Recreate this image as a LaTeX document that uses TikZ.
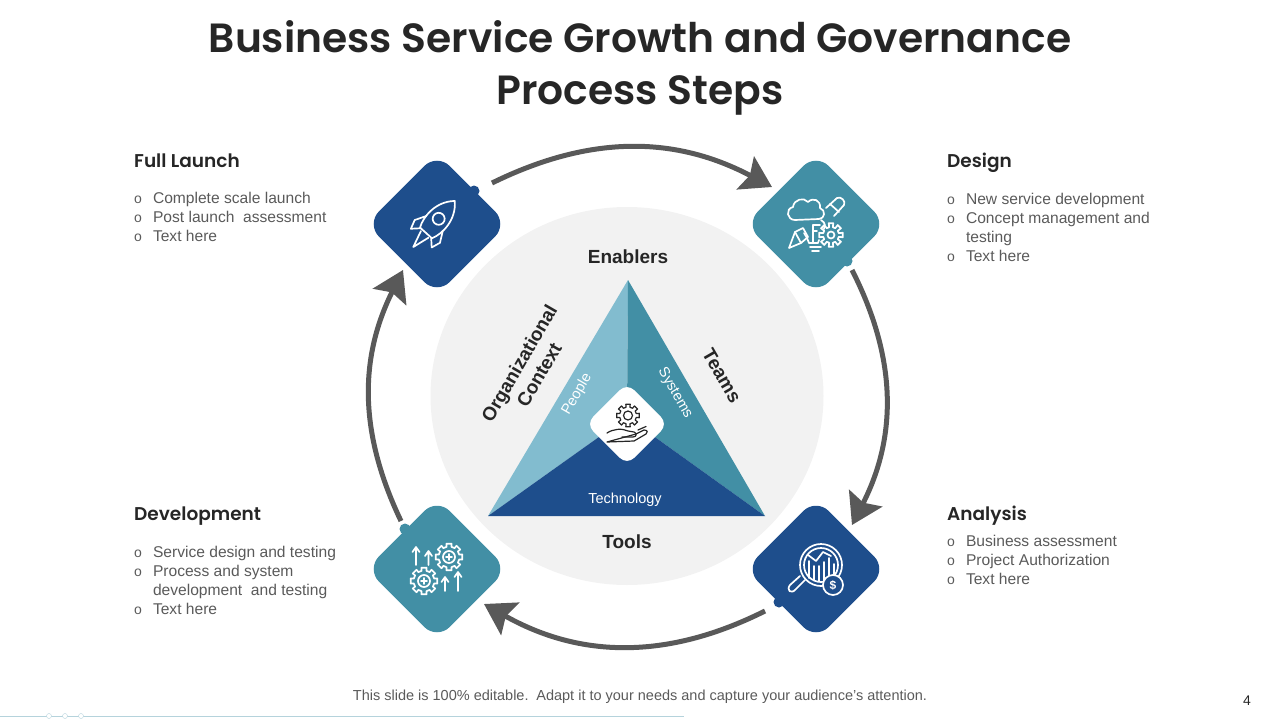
\documentclass[tikz,border=0pt]{standalone}
\usepackage{fontspec}
\setmainfont{Liberation Sans}
\newfontfamily\headfont[BoldFont={Poppins SemiBold}]{Poppins}
\usetikzlibrary{arrows.meta, shapes.geometric}

\definecolor{navyblue}{HTML}{1E4E8C}
\definecolor{tealblue}{HTML}{428FA5}
\definecolor{skyblue}{HTML}{82BCCF}
\definecolor{discgray}{HTML}{F2F2F2}
\definecolor{arrowgray}{HTML}{595959}
\definecolor{bodygray}{HTML}{5A5A5A}
\definecolor{inkgray}{HTML}{262626}
\definecolor{rulecolor}{HTML}{B5D3DC}

\tikzset{
  stagebox/.style={rectangle, rotate=45, minimum size=100pt, inner sep=0pt, rounded corners=18pt},
  notchdot/.style={circle, minimum size=11pt, inner sep=0pt},
  flowarrow/.style={draw=arrowgray, line width=5pt, -{Stealth[length=30pt,width=37pt,inset=5pt]}},
  headlabel/.style={anchor=base west, inner sep=0pt, text=inkgray, font=\headfont\bfseries\fontsize{18.5}{22}\selectfont},
  bodylist/.style={anchor=north west, inner sep=0pt, align=left, text=bodygray, font=\fontsize{15.6}{19}\selectfont},
  bandlabel/.style={inner sep=0pt, align=center, text=inkgray, font=\bfseries\fontsize{19}{22}\selectfont},
  wedgelabel/.style={inner sep=0pt, text=white, font=\fontsize{14.5}{17}\selectfont},
  iconline/.style={draw=white, line width=1.7pt, line join=round, line cap=round},
  darkline/.style={draw=inkgray, line width=1.2pt, line join=round, line cap=round},
}

% one list row, and one continued row
\newcommand{\listrow}[1]{\makebox[18.8pt][l]{\fontsize{14}{14}\selectfont o}#1}
\newcommand{\listmore}[1]{\hspace*{18.8pt}#1}
% gear: x, y, inner radius, outer radius, style
\newcommand{\gearicon}[5]{
  \draw[#5, shift={(#1,#2)}] (-11:#4) \foreach \a in {0,45,...,315} {
    -- (\a-11:#4) -- (\a+11:#4) -- (\a+13:#3) -- (\a+32:#3)} -- cycle;
}

\begin{document}
\begin{tikzpicture}[x=1pt, y=-1pt]
  \useasboundingbox (0,0) rectangle (1280,720);

  % title
  \node[inner sep=0pt, align=center, text=inkgray, font=\headfont\bfseries\fontsize{40.8}{52}\selectfont] (title) at (640,68)
    {Business Service Growth and Governance\\Process Steps};

  % centre
  \node[ellipse, fill=discgray, minimum width=393pt, minimum height=378pt, inner sep=0pt] (disc) at (627,396) {};
  \coordinate (apex) at (628,280);
  \coordinate (left) at (488,516);
  \coordinate (right) at (765,516);
  \coordinate (mid) at (627,417);
  \fill[skyblue] (apex) -- (left) -- (mid) -- cycle;
  \fill[tealblue] (apex) -- (right) -- (mid) -- cycle;
  \fill[navyblue] (left) -- (mid) -- (right) -- cycle;
  \node[stagebox, fill=white, minimum size=58pt, rounded corners=10pt] (hub) at (627,424) {};

  \node[bandlabel] (enablers) at (628,257) {Enablers};
  \node[bandlabel] (tools) at (627,542) {Tools};
  \node[bandlabel, rotate=60, font=\bfseries\fontsize{19}{23}\selectfont] (context) at (529,369) {Organizational\\Context};
  \node[bandlabel, rotate=-60] (teams) at (722,376) {Teams};
  \node[wedgelabel, rotate=60] (people) at (577,394) {People};
  \node[wedgelabel, rotate=-60] (systems) at (675,393) {Systems};
  \node[wedgelabel] (technology) at (625,500) {Technology};

  % stages
  \node[stagebox, fill=navyblue] (launch) at (437,224) {};
  \node[stagebox, fill=tealblue] (design) at (816,224) {};
  \node[stagebox, fill=navyblue] (analysis) at (816,569) {};
  \node[stagebox, fill=tealblue] (develop) at (437,569) {};
  \node[notchdot, fill=navyblue] (launchdot) at (474,191) {};
  \node[notchdot, fill=tealblue] (designdot) at (847,261) {};
  \node[notchdot, fill=navyblue] (analysisdot) at (779,602) {};
  \node[notchdot, fill=tealblue] (developdot) at (405,529) {};

  % connectors
  \coordinate (launchout) at (492,183);
  \coordinate (designin) at (772,187);
  \coordinate (designout) at (852,270);
  \coordinate (analysisin) at (852,525);
  \coordinate (analysisout) at (765,611);
  \coordinate (developin) at (484,604);
  \coordinate (developout) at (401,521);
  \coordinate (launchin) at (403,270);
  \draw[flowarrow] (launchout) to[bend left=27] (designin);
  \draw[flowarrow] (designout) to[bend left=27] (analysisin);
  \draw[flowarrow] (analysisout) to[bend left=28] (developin);
  \draw[flowarrow] (developout) to[bend left=26] (launchin);

  % rocket
  \begin{scope}[shift={(434,224)}, rotate=-42]
    \draw[iconline] (0,-31) .. controls (14,-18) and (13,2) .. (8,12) -- (-8,12) .. controls (-13,2) and (-14,-18) .. (0,-31) -- cycle;
    \draw[iconline] (0,-7) circle (6);
    \draw[iconline] (-11,-1) -- (-17,10) -- (-14,19) -- (-7,12);
    \draw[iconline] (11,-1) -- (17,10) -- (14,19) -- (7,12);
    \draw[iconline] (-5,14) -- (0,31) -- (5,14);
  \end{scope}

  % cloud, pencil, bulb, gear
  \draw[iconline] (789,248) -- (795,232) -- (803,228) -- (808,237) -- (801,243) -- cycle;
  \draw[iconline] (795,232) -- (801,243);
  \draw[iconline] (826,208) -- (837,198) .. controls (841,196) and (846,201) .. (844,205) -- (834,216);
  \draw[iconline] (830,204) -- (839,212);
  \draw[iconline] (795,220) .. controls (787,220) and (785,209) .. (793,207) .. controls (794,199) and (804,197) .. (808,202) .. controls (813,197) and (821,200) .. (820,208) .. controls (826,210) and (825,219) .. (819,219) -- cycle;
  \draw[iconline] (821,220) .. controls (826,223) and (825,226) .. (824,229) (819,240) -- (818,243) -- (809,243) -- (807,238) -- (804,233);
  \draw[iconline] (810,247) -- (821,247);
  \draw[iconline] (812,251) -- (819,251);
  \draw[iconline] (820,225) -- (813,225) -- (813,231) -- (817,231) (813,231) -- (813,242);
  \gearicon{831}{235}{8}{12}{iconline}
  \draw[iconline] (831,235) circle (3.5);

  % arrows and gears
  \gearicon{449}{557}{10.5}{13.5}{iconline}
  \draw[iconline] (449,557) circle (6);
  \draw[iconline] (446,557) -- (452,557) (449,554) -- (449,560);
  \gearicon{424}{581}{10.5}{13.5}{iconline}
  \draw[iconline] (424,581) circle (6);
  \draw[iconline] (421,581) -- (427,581) (424,578) -- (424,584);
  \draw[iconline] (416,565) -- (416,548) (412.5,552) -- (416,547) -- (419.5,552);
  \draw[iconline] (428.5,565) -- (428.5,552) (425,556) -- (428.5,551) -- (432,556);
  \draw[iconline] (445,591) -- (445,578) (441.5,582) -- (445,577) -- (448.5,582);
  \draw[iconline] (458,591) -- (458,573) (454.5,577) -- (458,572) -- (461.5,577);

  % magnifier and coin
  \draw[iconline] (821,565) circle (21);
  \draw[iconline] (821,565) circle (17);
  \draw[iconline] (809,578) -- (809,561) (814,580) -- (814,566) (819,581) -- (819,566) (824,581) -- (824,562) (829,579) -- (829,558) (834,575) -- (834,564);
  \draw[iconline] (808,555) -- (816,561) -- (823,552) -- (831,556);
  \draw[iconline] (805,580) -- (796,589) .. controls (791,595) and (786,590) .. (790,585) -- (800,576);
  \draw[iconline, fill=navyblue] (833,585) circle (10);
  \node[inner sep=0pt, text=white, font=\bfseries\fontsize{12}{12}\selectfont] (coin) at (833,585) {\$};

  % hand under gear
  \gearicon{628}{415.5}{8.5}{11.5}{darkline}
  \draw[darkline] (628,415.5) circle (4.5);
  \draw[darkline] (607,433) .. controls (613,429) and (622,428) .. (628,431) -- (634,432) .. controls (637,433) and (637,437) .. (633,437) -- (622,437);
  \draw[darkline] (636,434) -- (644,430) .. controls (648,430) and (648,433) .. (646,434) -- (634,441) -- (607,442) -- cycle;
  \draw[darkline] (638,430) -- (646,426.5);

  % side texts
  \node[headlabel] (launchhead) at (134,167) {Full Launch};
  \node[bodylist] (launchlist) at (134,192) {\listrow{Complete scale launch}\\\listrow{Post launch~ assessment}\\\listrow{Text here}};
  \node[headlabel] (designhead) at (947,167) {Design};
  \node[bodylist] (designlist) at (947,193) {\listrow{New service development}\\\listrow{Concept management and}\\\listmore{testing}\\\listrow{Text here}};
  \node[headlabel] (analysishead) at (947,520) {Analysis};
  \node[bodylist] (analysislist) at (947,535) {\listrow{Business assessment}\\\listrow{Project Authorization}\\\listrow{Text here}};
  \node[headlabel] (develophead) at (134,520) {Development};
  \node[bodylist] (developlist) at (134,546) {\listrow{Service design and testing}\\\listrow{Process and system}\\\listmore{development~ and testing}\\\listrow{Text here}};

  % footer
  \node[inner sep=0pt, text=bodygray, font=\fontsize{14.5}{17}\selectfont] (footnote) at (640,697) {This slide is 100\% editable.\, Adapt it to your needs and capture your audience's attention.};
  \node[inner sep=0pt, text=inkgray, font=\fontsize{14}{17}\selectfont] (pageno) at (1247,701) {4};
  \coordinate (rulestart) at (0,716);
  \coordinate (ruleend) at (684,716);
  \draw[rulecolor, line width=1pt] (rulestart) -- (ruleend);
  \foreach \i/\x in {a/49,b/65,c/81}
    \node[circle, draw=rulecolor, fill=white, minimum size=5pt, inner sep=0pt] (rule\i) at (\x,716) {};
\end{tikzpicture}
\end{document}
